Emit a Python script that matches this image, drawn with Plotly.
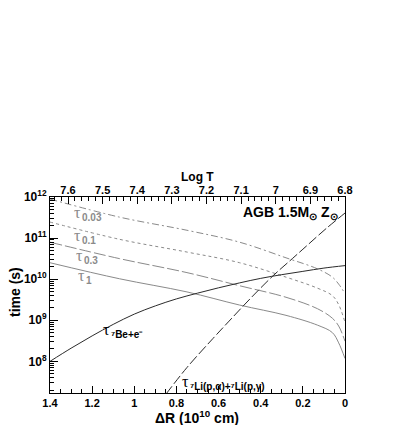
import numpy as np
import plotly.graph_objects as go

# ΔR grid (10^10 cm) and log10(time/s)
dr_tau = [1.4, 1.07, 0.75, 0.5, 0.28, 0.13, 0.06, 0.03, 0.0]
log_tau_1 = [10.40, 10.01, 9.69, 9.37, 9.12, 8.88, 8.70, 8.45, 8.07]
log_tau_03 = [10.90, 10.50, 10.16, 9.84, 9.56, 9.28, 9.05, 8.86, 8.49]
log_tau_01 = [11.39, 10.97, 10.66, 10.40, 10.05, 9.78, 9.60, 9.38, 8.95]
log_tau_003 = [11.95, 11.51, 11.19, 10.90, 10.52, 10.25, 10.05, 9.88, 9.65]

dr_be = [1.4, 1.3, 1.2, 1.1, 1.0, 0.9, 0.8, 0.7, 0.6, 0.5, 0.4, 0.3, 0.2, 0.1, 0.0]
log_be = [8.00, 8.32, 8.62, 8.90, 9.15, 9.35, 9.52, 9.66, 9.79, 9.91, 10.02, 10.11, 10.19, 10.27, 10.33]

dr_li = [0.85, 0.75, 0.626, 0.55, 0.451, 0.342, 0.25, 0.18, 0.09, 0.0]
log_li = [7.20, 7.85, 8.56, 8.98, 9.52, 10.08, 10.50, 10.82, 11.23, 11.61]

logT_ticks = [7.6, 7.5, 7.4, 7.3, 7.2, 7.1, 7.0, 6.9, 6.8]
logT_labels = ["7.6", "7.5", "7.4", "7.3", "7.2", "7.1", "7", "6.9", "6.8"]
dr_ticks = [1.4, 1.2, 1.0, 0.8, 0.6, 0.4, 0.2, 0.0]
dr_labels = ["1.4", "1.2", "1", "0.8", "0.6", "0.4", "0.2", "0"]
y_exps = [8, 9, 10, 11, 12]

GRAY = "#8a8a8a"
DARK = "#2b2b2b"
FONT = "Liberation Sans"
SERIF = "Liberation Serif"

# plot box in page pixels; the page body adds an 8px offset
L, R, T, B = 50, 345, 197, 393
OFF = 8

fig = go.Figure()

curves = [
    (dr_tau, log_tau_003, GRAY, "7px,3px,2px,3px"),
    (dr_tau, log_tau_01, GRAY, "3px,3px"),
    (dr_tau, log_tau_03, GRAY, "12px,3px"),
    (dr_tau, log_tau_1, GRAY, "solid"),
    (dr_be, log_be, DARK, "solid"),
    (dr_li, log_li, DARK, "10px,3px"),
]
for xs, ls, col, dash in curves:
    fig.add_trace(go.Scatter(
        x=xs, y=10 ** np.array(ls), mode="lines",
        line=dict(color=col, width=1, dash=dash, shape="spline", smoothing=1.0),
        showlegend=False, hoverinfo="skip"
    ))

# invisible trace to activate the top Log T axis
fig.add_trace(go.Scatter(x=[7.6], y=[1e9], xaxis="x2", mode="markers",
                         marker=dict(opacity=0), showlegend=False, hoverinfo="skip"))

minor_y = [m * 10 ** e for e in range(7, 12) for m in range(2, 10)]

fig.update_layout(
    width=409, height=425,
    margin=dict(l=L - OFF, r=409 + OFF - R, t=T - OFF, b=425 + OFF - B),
    paper_bgcolor="white", plot_bgcolor="white",
    font=dict(family=FONT, size=11, color="black"),
    xaxis=dict(
        range=[1.4, 0], tickvals=dr_ticks, ticktext=dr_labels,
        ticks="inside", ticklen=7, tickcolor="black", automargin=False,
        minor=dict(dtick=0.05, ticks="inside", ticklen=4, tickcolor="black"),
        showline=True, linecolor="black", linewidth=1, mirror=False,
        showgrid=False, zeroline=False,
        tickfont=dict(family=FONT, size=11, weight="bold"),
    ),
    xaxis2=dict(
        range=[7.652, 6.8], overlaying="x", side="top",
        tickvals=logT_ticks, ticktext=logT_labels, automargin=False,
        ticks="inside", ticklen=7, tickcolor="black", ticklabelstandoff=-2,
        minor=dict(dtick=0.02, tick0=6.8, ticks="inside", ticklen=4, tickcolor="black"),
        showline=True, linecolor="black", linewidth=1,
        showgrid=False, zeroline=False,
        tickfont=dict(family=FONT, size=11, weight="bold"),
    ),
    yaxis=dict(
        type="log", range=[7.23, 12.0], automargin=False,
        tickvals=[10 ** e for e in y_exps],
        ticktext=["10<sup>%d</sup>" % e for e in y_exps],
        ticks="inside", ticklen=8, tickcolor="black",
        minor=dict(tickvals=minor_y, ticks="inside", ticklen=4, tickcolor="black"),
        showline=True, linecolor="black", linewidth=1, mirror=True,
        showgrid=False, zeroline=False,
        tickfont=dict(family=FONT, size=12, weight="bold"),
    ),
)


def page_text(x, y, text, size, color, family=FONT, anchor="center", angle=0):
    fig.add_annotation(
        x=(x - L) / (R - L), y=(B - y) / (B - T), xref="paper", yref="paper",
        text=text, showarrow=False, xanchor=anchor, yanchor="middle",
        textangle=angle, font=dict(family=family, size=size, color=color)
    )


page_text(197, 177, "<b>Log T</b>", 12, "black")
page_text(197, 417, "<b>ΔR (10<sup>10</sup> cm)</b>", 14, "black")
page_text(15, 292, "<b>time (s)</b>", 14, "black", angle=-90)
page_text(290, 213, "<b>AGB 1.5M<sub>⊙</sub> Z<sub>⊙</sub></b>", 14, "black")

# τ labels: (left x, y of τ, subscript, colour)
tau_labels = [
    (72, 212, "0.03", GRAY),
    (72, 235, "0.1", GRAY),
    (74, 255, "0.3", GRAY),
    (76, 275, "1", GRAY),
    (101, 329, "⁷Be+e⁻", "black"),
    (180, 381, "⁷Li(p,α)+⁷Li(p,γ)", "black"),
]
for x0, y0, sub, col in tau_labels:
    page_text(x0, y0, "τ", 16, col, family=SERIF, anchor="left")
    page_text(x0 + 8, y0 + 5, "<b>%s</b>" % sub, 10, col, anchor="left")

fig.write_html("out.html")
